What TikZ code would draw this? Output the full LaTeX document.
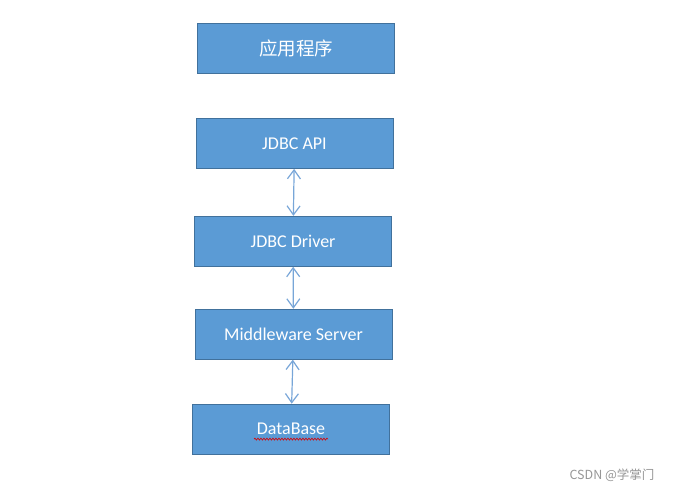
\documentclass[tikz,border=0pt]{standalone}
\usepackage{fontspec}
\setmainfont{Carlito}
\newfontfamily\cjk{Noto Sans CJK SC}
\usepackage{tikz}
\usetikzlibrary{arrows.meta,positioning,decorations.pathmorphing}
\definecolor{boxfill}{RGB}{91,155,213}
\definecolor{boxline}{RGB}{65,113,156}
\definecolor{linkblue}{RGB}{120,166,216}
\definecolor{markgray}{RGB}{150,150,150}

\begin{document}
\begin{tikzpicture}[
  x=1pt,y=-1pt,
  layer/.style={rectangle,draw=boxline,fill=boxfill,line width=0.9pt,
                minimum width=197pt,minimum height=50pt,inner sep=0pt,
                text=white,font=\fontsize{18}{21}\selectfont},
  link/.style={{Straight Barb[length=9pt,width=13pt]}-{Straight Barb[length=9pt,width=13pt]},
               line width=1.2pt,color=linkblue},
  spell/.style={draw=red!85!black,line width=0.6pt,
                decorate,decoration={snake,amplitude=1pt,segment length=3pt}}
]
  \useasboundingbox (0,0) rectangle (676,491);

  % Application
  \node[layer,font=\cjk\fontsize{18.5}{21}\selectfont] (app) at (296,48.5) {应用程序};

  % Layers
  \node[layer,below=44pt of app,xshift=-1.5pt] (api) {JDBC API};
  \node[layer,below=47pt of api,xshift=-1.5pt] (drv) {JDBC Driver};
  \node[layer,below=42pt of drv,xshift=0.5pt] (mid) {Middleware Server};
  \node[layer,below=44pt of mid,xshift=-2.5pt] (db) {DataBase};

  % Arrows
  \draw[link] (api) -- (drv);
  \draw[link] (drv) -- (mid);
  \draw[link] (mid) -- (db);

  % Spell-check underline
  \draw[spell] ([xshift=-37pt,yshift=-10pt]db.center) -- ([xshift=37pt,yshift=-10pt]db.center);

  % Watermark
  \node[text=markgray,font=\cjk\fontsize{12.5}{15}\selectfont] (mark) at (612,475) {CSDN @学掌门};
\end{tikzpicture}
\end{document}
